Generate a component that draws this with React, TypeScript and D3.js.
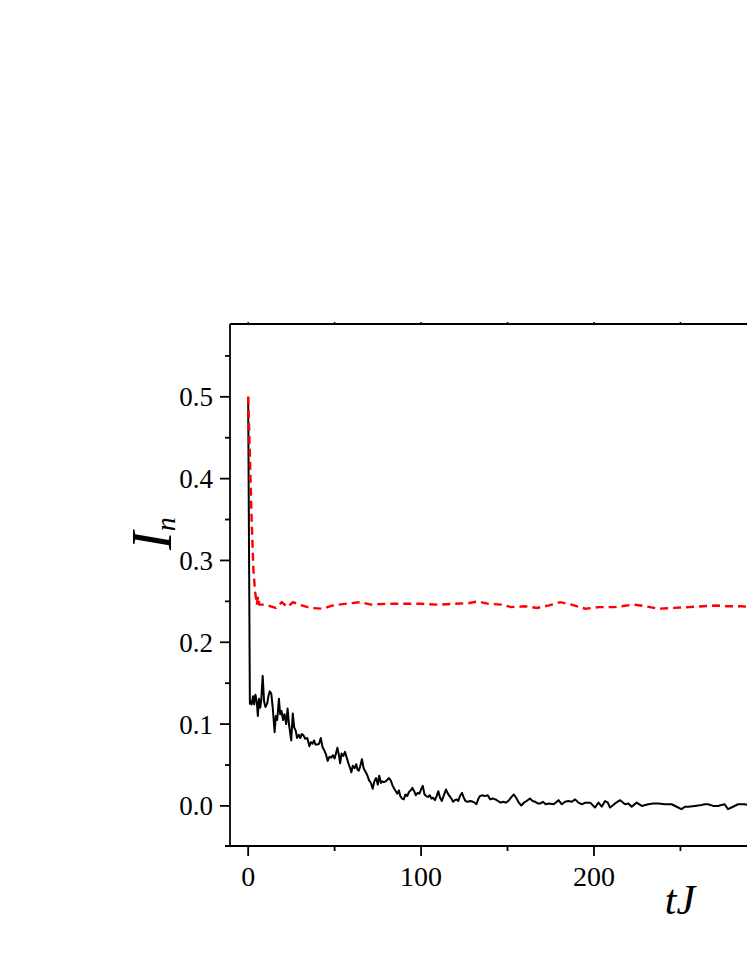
import React from "react";
import * as d3 from "d3";

// time axis (tJ) and I_n values
const blackCurve: [number, number][] = [
  [0, 0.5], [1, 0.125], [1.5, 0.128], [2, 0.124], [2.8, 0.134], [3.5, 0.124], [4.2, 0.136], [5, 0.127],
  [5.6, 0.11], [6.3, 0.131], [7, 0.12], [7.6, 0.13], [8.4, 0.159], [9.2, 0.128], [10, 0.121], [11, 0.125],
  [11.8, 0.135], [12.5, 0.14], [13.4, 0.137], [14.3, 0.118], [15.3, 0.09], [16, 0.11], [16.8, 0.105],
  [17.8, 0.131], [18.5, 0.112], [19.3, 0.116], [20.2, 0.105], [21, 0.112], [22, 0.1], [22.8, 0.119],
  [23.6, 0.1], [24.9, 0.08], [25.8, 0.113], [26.6, 0.096], [27.5, 0.092], [28.3, 0.083], [29.3, 0.087],
  [30.2, 0.083], [31.1, 0.088], [32, 0.086], [33, 0.082], [34.2, 0.083], [35.4, 0.073], [36.3, 0.078],
  [37.2, 0.076], [38.1, 0.08], [39, 0.075], [40, 0.075], [41, 0.076], [42, 0.083], [43, 0.072], [44, 0.068],
  [45, 0.063], [46, 0.055], [47, 0.06], [48, 0.059], [49, 0.062], [50, 0.058], [51, 0.066], [51.6, 0.071],
  [52.5, 0.062], [53.2, 0.052], [54, 0.064], [55, 0.061], [56, 0.066], [57, 0.059], [58, 0.052], [59, 0.046],
  [59.7, 0.041], [60.5, 0.049], [61.5, 0.046], [62.5, 0.051], [63.3, 0.044], [64, 0.043], [65, 0.05],
  [65.8, 0.057], [66.8, 0.046], [67.8, 0.042], [68.8, 0.038], [70, 0.031], [71, 0.028], [72, 0.021],
  [73, 0.03], [74, 0.034], [75, 0.026], [75.8, 0.037], [76.8, 0.028], [77.5, 0.03], [78.5, 0.029],
  [79.5, 0.03], [80.5, 0.032], [81.5, 0.034], [82.5, 0.031], [83.5, 0.025], [84.5, 0.021], [85.4, 0.018],
  [86.3, 0.015], [87.2, 0.019], [88, 0.012], [89, 0.009], [90, 0.008], [91, 0.014], [92, 0.012], [93, 0.017],
  [94, 0.019], [95, 0.022], [96, 0.018], [97, 0.013], [98, 0.016], [99, 0.015], [100, 0.02], [101, 0.0245],
  [102, 0.014], [103, 0.012], [104, 0.011], [105, 0.013], [106, 0.009], [107, 0.01], [108, 0.007], [109, 0.012],
  [110, 0.018], [111, 0.01], [112, 0.006], [113, 0.012], [114.4, 0.02], [115.5, 0.015], [116.5, 0.012],
  [117.5, 0.009], [118.5, 0.005], [119.5, 0.007], [120.5, 0.008], [121.5, 0.006], [122.5, 0.012],
  [123.7, 0.016], [124.7, 0.01], [125.7, 0.006], [127, 0.005], [128.5, 0.006], [130, 0.005], [131, 0.004],
  [132, 0.002], [133, 0.008], [134, 0.012], [135.5, 0.013], [137, 0.012], [138.5, 0.013], [140, 0.008],
  [141.5, 0.009], [143, 0.008], [144.5, 0.006], [146, 0.004], [147.5, 0.005], [149, 0.004], [150.5, 0.006],
  [152, 0.01], [153.6, 0.014], [155, 0.01], [156.5, 0.004], [158, 0.0005], [159.5, 0.004], [161, 0.006],
  [163, 0.009], [164.5, 0.006], [166, 0.005], [167.5, 0.003], [169, 0.003], [170.5, 0.005], [172, 0.002],
  [173.8, 0.003], [176.7, 0.002], [179.5, 0.007], [181.4, 0.002], [183.3, 0.005], [185.3, 0.006],
  [187.2, 0.005], [189.1, 0.008], [191, 0.004], [193, 0.002], [194.9, 0.004], [197.8, 0.004], [200.6, -0.002],
  [202.6, 0.004], [204.5, -0.001], [206.4, 0.006], [208, 0.004], [209.3, -0.002], [212.2, 0.003],
  [215.1, 0.007], [218, 0.002], [219.9, 0.003], [221.8, -0.001], [224.7, 0.004], [227.6, 0], [231.4, 0.002],
  [234.3, 0.003], [237.2, 0.003], [241, 0.002], [244.9, 0.002], [247.8, -0.001], [250.6, -0.004],
  [252.6, -0.001], [254.5, -0.001], [258.3, 0], [262.2, 0.001], [264.1, 0.002], [266, 0.002], [268.9, 0],
  [271.8, 0], [273.7, 0.001], [275.6, 0.002], [277.5, -0.004], [280.4, -0.001], [283.3, 0.002],
  [287.1, 0.002], [290, 0.001],
];

const redCurve: [number, number][] = [
  [0, 0.5], [1, 0.43], [2, 0.35], [3, 0.29], [4, 0.262], [5, 0.246], [5.7, 0.256], [6.5, 0.246],
  [10, 0.246], [13, 0.244], [16, 0.242], [19.5, 0.249], [22.5, 0.243], [26, 0.249], [31, 0.245],
  [36, 0.242], [43, 0.241], [49, 0.245], [56, 0.247], [65, 0.249], [71, 0.246], [80, 0.247], [90, 0.247],
  [100, 0.247], [110, 0.246], [120, 0.247], [128, 0.248], [133, 0.25], [139, 0.247], [147, 0.246],
  [152, 0.243], [160, 0.244], [167, 0.242], [174, 0.245], [180.5, 0.249], [187, 0.246], [195, 0.241],
  [203, 0.243], [212, 0.243], [223, 0.246], [230, 0.244], [237, 0.241], [246, 0.242], [255, 0.243],
  [263, 0.244], [270.6, 0.245], [277, 0.244], [285, 0.244], [292, 0.243],
];

const yMajor = [0, 0.1, 0.2, 0.3, 0.4, 0.5];
const yMinor = [0.05, 0.15, 0.25, 0.35, 0.45, 0.55];
const xMajor = [0, 100, 200, 300, 400, 500];
const xMinor = [50, 150, 250, 350, 450];

const W = 747, H = 967;
const left = 230, right = 1130, top = 324, bottom = 846;
const font = "'Liberation Serif', 'Times New Roman', serif";

export default function App() {
  const x = d3.scaleLinear().domain([-10.5, 510]).range([left, right]);
  const y = d3.scaleLinear().domain([-0.049, 0.589]).range([bottom, top]);
  const line = d3.line<[number, number]>().x(d => x(d[0])).y(d => y(d[1]));

  return (
    <svg width={W} height={H} style={{ position: "absolute", left: 0, top: 0, background: "#fff" }}>
      <path d={line(blackCurve) ?? ""} fill="none" stroke="#000" strokeWidth={2} strokeLinejoin="round" />
      <path d={line(redCurve) ?? ""} fill="none" stroke="#ff0000" strokeWidth={2.4} strokeDasharray="8,5" />

      {/* frame */}
      <line x1={left} x2={left} y1={top} y2={bottom} stroke="#000" strokeWidth={1.8} />
      <line x1={left - 5} x2={right} y1={bottom} y2={bottom} stroke="#000" strokeWidth={1.8} />
      <line x1={left} x2={right} y1={top} y2={top} stroke="#000" strokeWidth={1.8} />

      {/* y ticks */}
      {yMajor.map(v => (
        <g key={"ym" + v}>
          <line x1={left - 10} x2={left} y1={y(v)} y2={y(v)} stroke="#000" strokeWidth={1.8} />
          <text x={left - 17} y={y(v)} dy="0.35em" textAnchor="end" fontFamily={font} fontSize={27}>
            {d3.format(".1f")(v)}
          </text>
        </g>
      ))}
      {yMinor.map(v => (
        <line key={"yn" + v} x1={left - 5} x2={left} y1={y(v)} y2={y(v)} stroke="#000" strokeWidth={1.8} />
      ))}

      {/* x ticks */}
      {xMajor.map(v => (
        <g key={"xm" + v}>
          <line x1={x(v)} x2={x(v)} y1={bottom} y2={bottom + 10} stroke="#000" strokeWidth={1.8} />
          <line x1={x(v)} x2={x(v)} y1={top} y2={top - 2} stroke="#000" strokeWidth={1.5} />
          <text x={x(v)} y={886} textAnchor="middle" fontFamily={font} fontSize={28}>
            {v}
          </text>
        </g>
      ))}
      {xMinor.map(v => (
        <g key={"xn" + v}>
          <line x1={x(v)} x2={x(v)} y1={bottom} y2={bottom + 5} stroke="#000" strokeWidth={1.8} />
          <line x1={x(v)} x2={x(v)} y1={top} y2={top - 2} stroke="#000" strokeWidth={1.5} />
        </g>
      ))}

      {/* axis titles */}
      <text x={680} y={914} textAnchor="middle" fontFamily={font} fontStyle="italic" fontSize={42}>
        tJ
      </text>
      <text transform="translate(171,550) rotate(-90)" fontFamily={font} fontStyle="italic">
        <tspan fontSize={56}>I</tspan>
        <tspan fontSize={28} dy={4}>n</tspan>
      </text>
    </svg>
  );
}
